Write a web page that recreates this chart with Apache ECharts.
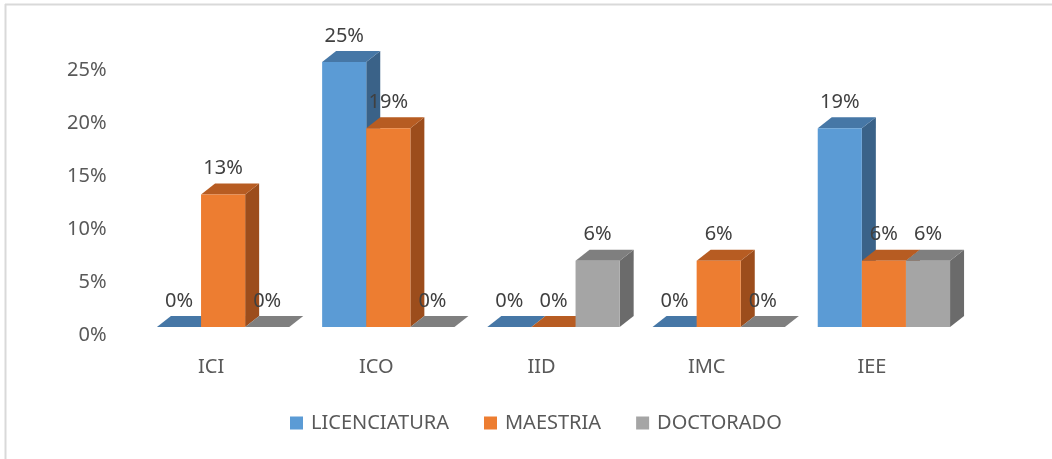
<!DOCTYPE html>
<html>
<head>
<meta charset="utf-8">
<script src="https://cdn.jsdelivr.net/npm/echarts@6/dist/echarts.min.js"></script>
<style>html,body{margin:0;padding:0;background:#fff;}#c{width:1052px;height:459px;}</style>
</head>
<body>
<div id="c"></div>
<script>
const categories = ['ICI', 'ICO', 'IID', 'IMC', 'IEE'];
const seriesNames = ['LICENCIATURA', 'MAESTRIA', 'DOCTORADO'];
const licenciatura = [0, 0.25, 0, 0, 0.1875];
const maestria = [0.125, 0.1875, 0, 0.0625, 0.0625];
const doctorado = [0, 0, 0.0625, 0, 0.0625];
const yTicks = { min: 0, max: 0.25, interval: 0.05 };

const seriesValues = [licenciatura, maestria, doctorado];
const palette = [
  { front: '#5B9BD5', top: '#4677A6', side: '#3A6288' },
  { front: '#ED7D31', top: '#B75C22', side: '#9C4D1C' },
  { front: '#A5A5A5', top: '#7F7F7F', side: '#6B6B6B' }
];
const DX = 14, DY = -11, OFFX = 12, OFFY = -8;
const pct = v => Math.round(v * 100) + '%';

function renderBar(params, api) {
  const s = params.seriesIndex;
  const col = palette[s];
  const ci = api.value(0), v = api.value(1);
  const base = api.coord([ci, 0]);
  const topP = api.coord([ci, v]);
  const bw = api.size([1, 0])[0] * 0.267;
  const x0 = base[0] + OFFX - 1.5 * bw + s * bw;
  const yb = base[1] + OFFY;
  const yt = topP[1] + OFFY;
  const children = [
    { type: 'polygon', shape: { points: [[x0 + bw, yt], [x0 + bw + DX, yt + DY], [x0 + bw + DX, yb + DY], [x0 + bw, yb]] }, style: { fill: col.side } },
    { type: 'polygon', shape: { points: [[x0, yt], [x0 + bw, yt], [x0 + bw + DX, yt + DY], [x0 + DX, yt + DY]] }, style: { fill: col.top } },
    { type: 'rect', shape: { x: x0, y: yt, width: bw, height: yb - yt }, style: { fill: col.front } },
    { type: 'text', z2: 10, style: { text: pct(v), x: x0 + bw / 2, y: yt + DY - 15, align: 'center', verticalAlign: 'middle', fill: '#404040', fontSize: 20, fontFamily: 'Noto Sans' } }
  ];
  return { type: 'group', children: children };
}

const chart = echarts.init(document.getElementById('c'));
chart.setOption({
  animation: false,
  backgroundColor: '#ffffff',
  textStyle: { fontFamily: 'Noto Sans' },
  graphic: [
    { type: 'line', shape: { x1: 5, y1: 4.5, x2: 1052, y2: 4.5 }, style: { stroke: '#d9d9d9', lineWidth: 2 } },
    { type: 'line', shape: { x1: 5.5, y1: 4, x2: 5.5, y2: 459 }, style: { stroke: '#d9d9d9', lineWidth: 2 } }
  ],
  grid: { left: 128.5, right: 97.5, top: 70, bottom: 124 },
  legend: {
    data: seriesNames,
    top: 408,
    left: 285,
    icon: 'rect',
    itemWidth: 13,
    itemHeight: 13,
    itemGap: 35,
    textStyle: { color: '#595959', fontSize: 20, fontFamily: 'Noto Sans', padding: [0, 0, 0, 3] }
  },
  xAxis: {
    type: 'category',
    data: categories,
    axisLine: { show: false },
    axisTick: { show: false },
    axisLabel: { color: '#595959', fontSize: 20, margin: 22, fontFamily: 'Noto Sans' }
  },
  yAxis: {
    type: 'value',
    min: yTicks.min,
    max: yTicks.max,
    interval: yTicks.interval,
    splitLine: { show: false },
    axisLine: { show: false },
    axisTick: { show: false },
    axisLabel: { color: '#595959', fontSize: 20, margin: 22, fontFamily: 'Noto Sans', formatter: pct }
  },
  series: seriesValues.map((vals, s) => ({
    name: seriesNames[s],
    type: 'custom',
    renderItem: renderBar,
    itemStyle: { color: palette[s].front },
    encode: { x: 0, y: 1 },
    clip: false,
    data: vals.map((v, i) => [i, v])
  }))
});
</script>
</body>
</html>
